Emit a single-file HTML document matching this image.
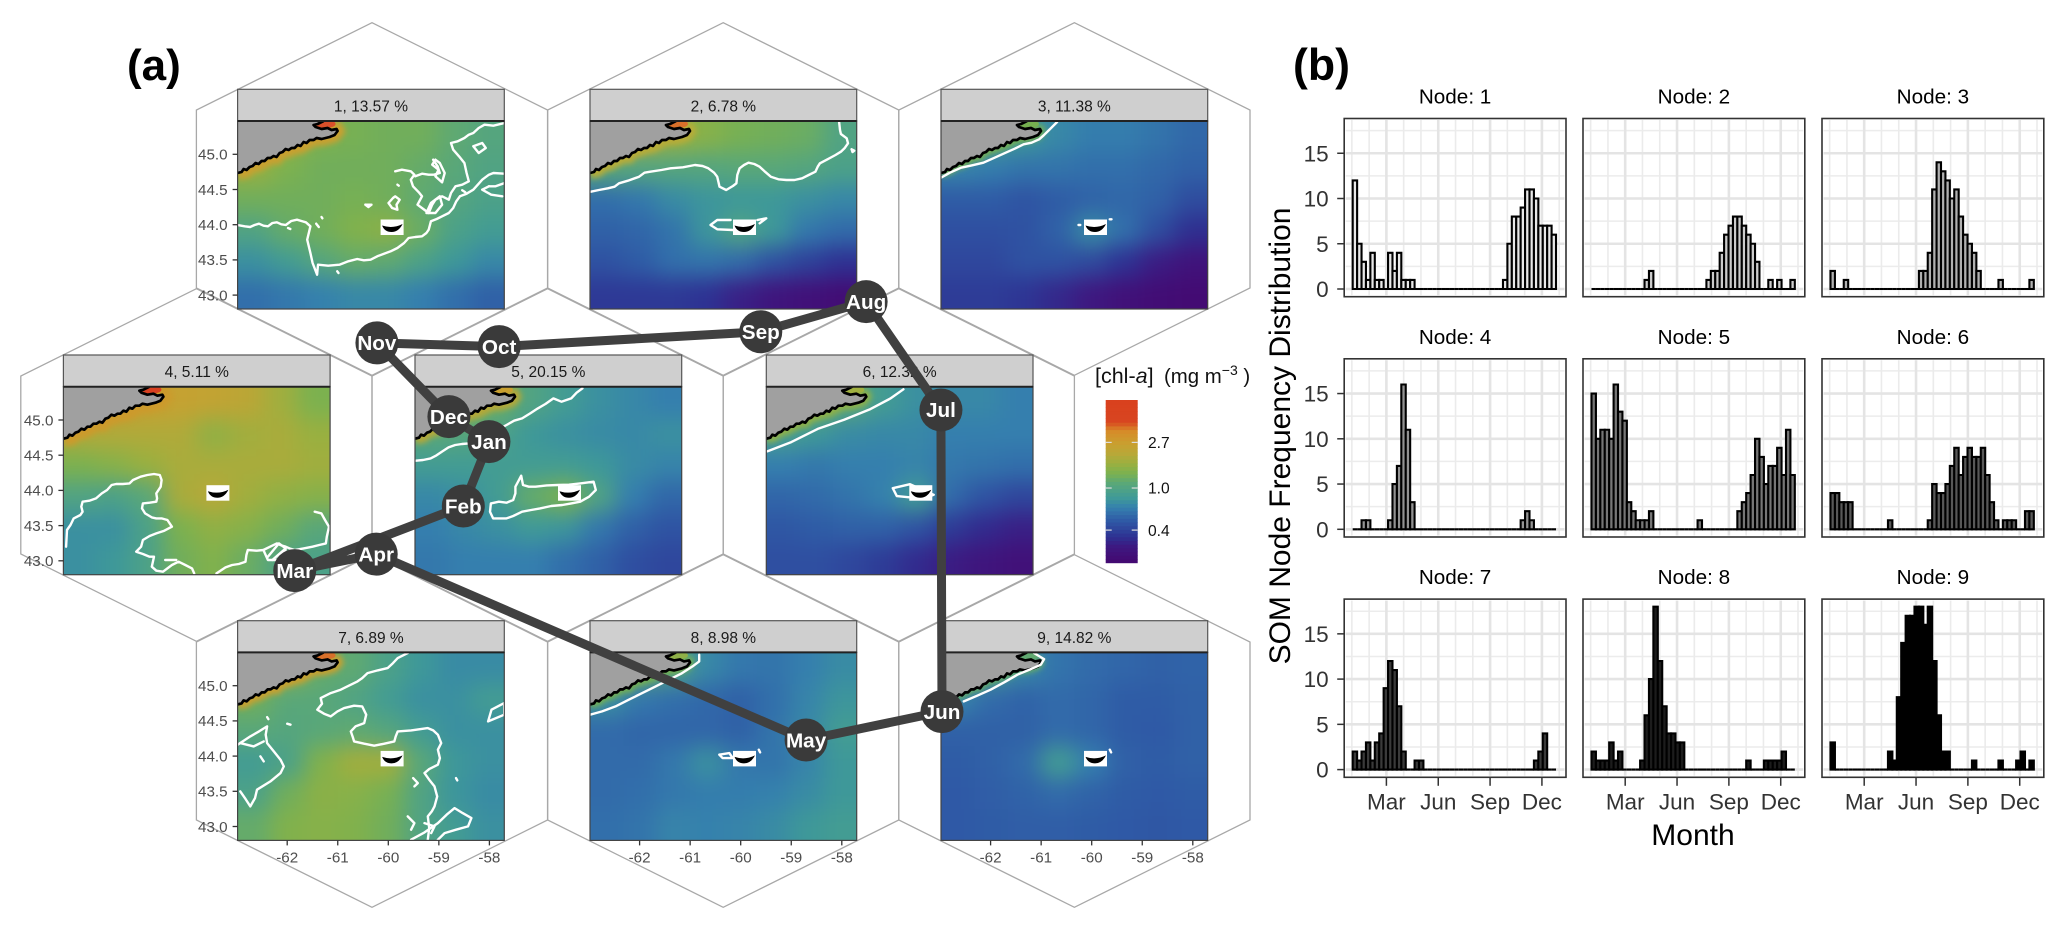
<!DOCTYPE html>
<html lang="en">
<head>
<meta charset="utf-8">
<title>SOM chlorophyll-a nodes and node frequency distribution</title>
<style>
html,body{margin:0;padding:0;background:#fff}
svg{display:block;font-family:"Liberation Sans",sans-serif}
</style>
</head>
<body>
<svg id="fig" xmlns="http://www.w3.org/2000/svg" width="2067" height="927" viewBox="0 0 2067 927">
  <defs>
    <filter id="fieldBlur" filterUnits="userSpaceOnUse" x="-90" y="-90" width="450" height="370" color-interpolation-filters="sRGB"><feGaussianBlur stdDeviation="11"/></filter>
    <filter id="fringeBlur" filterUnits="userSpaceOnUse" x="-90" y="-90" width="450" height="370" color-interpolation-filters="sRGB"><feGaussianBlur stdDeviation="3"/></filter>
    <clipPath id="mapClip"><rect x="0" y="0" width="266.7" height="188"/></clipPath>
  </defs>
  <rect x="0" y="0" width="2067" height="927" fill="#fff"/>
  <g id="hexLayer"></g>
  <g id="mapLayer"></g>
  <g id="pathLayer"></g>
  <g id="histLayer"></g>

  <text x="127" y="80" font-size="44" font-weight="bold" fill="#000">(a)</text>
  <text x="1293" y="80" font-size="44.6" font-weight="bold" fill="#000">(b)</text>

  <g id="legend">
    <text x="1095" y="383" font-size="21.5" fill="#111">[chl-<tspan font-style="italic">a</tspan>]</text>
    <text x="1164" y="383" font-size="20.4" fill="#111">(mg m<tspan dy="-8" font-size="14">−3</tspan><tspan dy="8"> )</tspan></text>
  </g>

  <text transform="translate(1290,436) rotate(-90)" text-anchor="middle" font-size="30" fill="#000">SOM Node Frequency Distribution</text>
  <text x="1693" y="845" text-anchor="middle" font-size="30" fill="#000">Month</text>
</svg>

<script>
/* ---------- histogram data (panel b): counts per 8-day composite, 46 bins ---------- */
const node1 = [12,5,3,1,4,1,1,0,4,2,4,1,1,1,0,0,0,0,0,0,0,0,0,0,0,0,0,0,0,0,0,0,0,0,1,5,8,8,9,11,11,10,7,7,7,6];
const node2 = [0,0,0,0,0,0,0,0,0,0,0,0,1,2,0,0,0,0,0,0,0,0,0,0,0,0,1,2,2,4,6,7,8,8,7,6,5,3,0,0,1,0,1,0,0,1];
const node3 = [2,0,0,1,0,0,0,0,0,0,0,0,0,0,0,0,0,0,0,0,2,2,4,11,14,13,12,10,11,8,6,5,4,2,0,0,0,0,1,0,0,0,0,0,0,1];
const node4 = [0,0,1,1,0,0,0,0,1,5,7,16,11,3,0,0,0,0,0,0,0,0,0,0,0,0,0,0,0,0,0,0,0,0,0,0,0,0,1,2,1,0,0,0,0,0];
const node5 = [15,10,11,11,10,16,13,12,3,2,1,1,1,2,0,0,0,0,0,0,0,0,0,0,1,0,0,0,0,0,0,0,0,2,3,4,6,10,8,5,7,7,9,6,11,6];
const node6 = [4,4,3,3,3,0,0,0,0,0,0,0,0,1,0,0,0,0,0,0,0,0,1,5,4,4,5,7,9,6,8,9,8,8,9,6,3,1,0,1,1,1,0,0,2,2];
const node7 = [2,1,2,3,1,3,4,9,12,11,7,2,0,0,1,1,0,0,0,0,0,0,0,0,0,0,0,0,0,0,0,0,0,0,0,0,0,0,0,0,0,1,2,4,0,0];
const node8 = [2,1,1,1,3,1,2,0,0,0,0,1,6,10,18,12,7,4,4,3,3,0,0,0,0,0,0,0,0,0,0,0,0,0,0,1,0,0,0,1,1,1,1,2,0,0];
const node9 = [3,0,0,0,0,0,0,0,0,0,0,0,0,2,1,8,14,17,17,18,18,16,18,12,6,2,2,0,0,0,0,0,1,0,0,0,0,0,1,0,0,0,1,2,0,1];
const nodeSeries = [node1,node2,node3,node4,node5,node6,node7,node8,node9];
const nodeTitles = ['Node: 1','Node: 2','Node: 3','Node: 4','Node: 5','Node: 6','Node: 7','Node: 8','Node: 9'];
const nodeFills = ['#e8e8e8','#cccccc','#b0b0b0','#939393','#767676','#585858','#3a3a3a','#1c1c1c','#000000'];
const countTicks = [0,5,10,15];
const countTickLabels = ['0','5','10','15'];
const countMinor = [2.5,7.5,12.5,17.5];
const monthGrid = [1,2,3,4,5,6,7,8,9,10,11,12,13];
const monthTicks = [3,6,9,12];
const monthTickLabels = ['Mar','Jun','Sep','Dec'];

/* ---------- SOM map data (panel a): chl-a (mg m-3) on a coarse 8x6 lon/lat grid ---------- */
const stripLabels = ['1, 13.57 %','2, 6.78 %','3, 11.38 %','4, 5.11 %','5, 20.15 %','6, 12.32 %','7, 6.89 %','8, 8.98 %','9, 14.82 %'];
const chl1 = [[2.0,1.7,1.4,1.35,1.3,1.3,1.15,1.05],[1.7,1.4,1.3,1.3,1.3,1.2,1.1,1.0],[1.3,1.3,1.3,1.35,1.3,1.15,1.05,.95],[1.0,1.2,1.3,1.45,1.55,1.25,.95,.85],[.75,.85,1.05,1.2,1.15,.95,.8,.7],[.58,.62,.66,.7,.7,.65,.58,.52]];
const chl2 = [[2.2,2,1.7,1.5,1.35,1.3,1.25,1.0],[1.1,1.05,1.05,1.05,1.1,1.1,1.05,.95],[.58,.62,.72,.78,.8,.8,.75,.7],[.52,.54,.6,.78,1.0,.8,.62,.56],[.46,.5,.58,.6,.56,.46,.4,.35],[.37,.37,.37,.35,.3,.26,.24,.22]];
const chl3 = [[1.0,.9,.8,.7,.64,.64,.6,.55],[.68,.64,.6,.6,.58,.58,.55,.52],[.5,.5,.47,.5,.53,.55,.52,.44],[.45,.45,.46,.52,.72,.58,.44,.34],[.42,.42,.46,.46,.43,.35,.29,.25],[.38,.38,.36,.32,.28,.24,.22,.21]];
const chl4 = [[3,3,2.7,2.5,2.4,2.2,1.8,1.4],[2.0,2.0,2.0,2.0,1.6,1.8,1.9,1.7],[1.4,1.5,1.7,1.9,1.9,1.9,1.9,1.8],[1.0,.95,1.1,1.9,2.1,1.8,1.6,1.5],[.75,.75,.95,1.4,1.6,1.5,1.3,1.1],[.75,.8,.95,1.3,1.45,1.25,1.0,.95]];
const chl5 = [[2,1.5,1.25,1.0,.85,.75,.7,.65],[1.1,1.05,.95,.8,.75,.72,.7,.75],[.85,.85,.85,.85,.85,.8,.72,.68],[.7,.75,.85,1.2,1.4,1.0,.65,.55],[.65,.7,.75,.82,.78,.62,.52,.47],[.62,.65,.65,.65,.58,.52,.45,.42]];
const chl6 = [[1.6,1.3,1.1,.85,.75,.7,.7,.65],[.9,.8,.72,.7,.7,.65,.65,.65],[.65,.62,.65,.65,.68,.62,.6,.58],[.54,.56,.6,.66,.85,.56,.47,.42],[.48,.5,.52,.52,.47,.38,.33,.3],[.45,.45,.42,.38,.33,.29,.26,.24]];
const chl7 = [[2,1.7,1.2,1.15,.95,.8,.72,.72],[1.3,1.1,1.1,1.0,.85,.75,.75,.85],[1.1,1.05,1.1,1.15,1.05,.85,.75,.75],[.85,.95,1.45,1.8,1.8,1.1,.8,.75],[.95,1.3,1.55,1.5,1.35,1.0,.78,.72],[1.2,1.45,1.5,1.45,1.3,1.0,.85,.75]];
const chl8 = [[1.4,1.2,1.0,.7,.62,.6,.65,.72],[.75,.62,.58,.55,.52,.58,.68,.78],[.56,.54,.54,.54,.52,.6,.7,.85],[.56,.56,.62,.75,.62,.6,.68,.8],[.56,.58,.62,.64,.64,.66,.72,.8],[.58,.6,.68,.66,.68,.72,.8,.85]];
const chl9 = [[1.0,.9,.7,.6,.56,.54,.52,.53],[.68,.56,.53,.56,.54,.5,.5,.52],[.52,.52,.52,.56,.54,.5,.49,.52],[.5,.52,.56,.85,.65,.52,.5,.52],[.49,.51,.53,.56,.53,.5,.49,.5],[.49,.5,.51,.51,.5,.49,.48,.49]];
const chlGrids = [chl1,chl2,chl3,chl4,chl5,chl6,chl7,chl8,chl9];
const latTicks = [45,44.5,44,43.5,43];
const latTickLabels = ['45.0','44.5','44.0','43.5','43.0'];
const lonTicks = [-62,-61,-60,-59,-58];
const lonTickLabels = ['-62','-61','-60','-59','-58'];
const legendValues = [2.7,1.0,0.4];
const legendLabels = ['2.7','1.0','0.4'];

/* ---------- monthly mean position on the SOM (hex column, hex row) ---------- */
const monthNames = ['Jan','Feb','Mar','Apr','May','Jun','Jul','Aug','Sep','Oct','Nov','Dec'];
const somCol = [.833,.76,.28,.512,1.736,2.123,2.12,1.907,1.607,.862,.514,.719];
const somRow = [.912,1.154,1.397,1.335,2.034,1.927,.793,.386,.499,.555,.541,.818];

/* ---------- contour traces and coast styling ---------- */
const coastLine = '0,52 4,51 6,48 9,49 12,46 15,45 18,42 21,43 24,40 27,40 30,37 33,37 36,35 39,36 42,32 45,31 48,28 51,29 54,27 57,27 60,24 63,25 66,21 69,22 72,19 76,19 79,17 84,18 88,17 92,16 97,14 100,10 99,8 94,9 90,7 84,8 78,6 76,4 80,3 84,1 86,0';
const fringeColors = ['#c9a030','#b8ac38','#76b050','#cc9a2c','#b5a838','#8fb048','#c8a030','#76b050','#6aaf60'];
const fringeWidths = [14,12,8,16,12,10,11,8,6];
const tipColors = ['#d8502a','#d8702a','#76b050','#d84020','#c8a030','#a0b040','#d8702a','#8fb048','#60a870'];
const traceFrames = [[532,364,2.24,3],[90,183,2.24,3],[875,185,2.24,3],[142,170,2.24,3],[930,170,2.24,3],[581,293,.7587,.7587],[86,128,1.493,3],[612,128,1.493,3],[1136,128,1.493,3]];
const contourTraces = [
 ['532,676 548,680 560,682 570,676 580,672 590,678 600,680 610,670 620,668 630,674 640,676 652,664 665,660 675,664 685,668 695,680 688,720 695,760 700,790 710,825 712,795 735,798 760,795 780,785 800,778 815,782 830,780 845,770 860,762 875,755 890,745 905,730 915,715 930,712 945,710 955,700 960,690 965,665 978,658 990,650 1005,640 1015,625 1022,605 1030,590 1045,582 1060,570 1072,552 1080,540 1095,525 1105,520 1130,522',
  '885,515 900,510 920,515 928,525 920,540 925,560 938,578 945,590 935,615 948,628 960,640 968,615 975,600 990,590 1005,600 1010,580 1020,560 1035,555 1050,545 1045,520 1040,490 1028,470 1015,450 1010,430 1025,425 1040,415 1050,405 1060,400 1072,385 1085,375 1105,378 1130,370',
  '970,480 980,500 985,520 972,525 960,525 945,522 930,530','870,610 880,595 885,590 895,600 888,615 890,630 878,625 870,610','818,615 832,615 825,622 818,615',
  '1060,440 1080,430 1088,445 1072,460 1060,440','1095,560 1080,570 1100,585 1125,590','1130,550 1110,560 1095,560','965,610 985,590 990,615 975,640 955,640 965,610','975,480 968,495 982,510 975,530 990,548 996,520 985,490 975,480',
  '708,672 714,682','720,652 722,656','755,815 758,820','645,685 650,688','890,555 893,558','1035,572 1042,578'],
 ['92,395 110,390 130,385 145,380 155,370 175,362 200,350 212,338 225,335 250,330 270,325 298,322 325,315 342,318 355,325 368,338 375,350 378,368 380,380 395,390 410,378 418,370 420,345 425,325 435,315 445,308 458,312 470,320 482,335 495,350 512,358 530,360 548,360 565,355 580,345 595,335 600,320 605,310 622,298 640,285 652,275 660,265 668,250 665,235 652,222 650,210 648,185',
  '405,480 375,480 360,495 375,508 410,510','465,480 485,475 470,490','676,268 682,272 678,276 676,268'],
 ['875,355 895,340 920,325 945,318 970,310 995,295 1020,280 1040,268 1060,255 1078,250 1095,240 1105,228 1115,215 1135,188','1183,497 1187,497','1253,480 1257,480'],
 ['148,650 150,600 158,585 165,565 180,555 185,545 182,530 185,515 200,512 215,505 228,490 240,480 250,465 260,462 275,462 290,460 298,450 315,440 330,435 345,432 358,435 362,450 360,470 350,490 352,505 350,515 335,518 320,520 318,535 325,550 340,562 350,565 362,565 375,570 385,590 368,602 350,610 335,618 320,630 316,650 305,665 320,672 335,680 345,680 340,710 350,722 365,725 385,705 400,695 415,705 430,715 435,730',
  '485,730 505,712 520,705 535,702 550,695 552,675 555,660 575,662 590,660 605,650 620,640 630,646 640,650 650,656 660,660 680,655 700,650 715,645 730,640 732,620 737,590 728,570 720,550 705,545','370,690 395,690','600,680 625,640 640,655 610,690','590,660 600,690 620,690 640,660'],
 ['932,392 948,390 965,385 978,376 990,365 1005,352 1020,345 1035,342 1050,340 1100,310 1135,285 1152,272 1170,265 1188,250 1205,235 1222,222 1240,205 1258,215 1280,205 1292,188 1305,175',
  '1100,520 1118,515 1135,518 1150,510 1155,490 1155,470 1162,452 1168,437 1172,465 1185,470 1200,470 1225,466 1250,465 1275,464 1300,460 1330,455 1335,480 1320,500 1300,515 1280,520 1260,525 1235,528 1210,535 1190,540 1170,545 1150,558 1135,565 1105,565 1098,545 1100,520'],
 ['582,342 600,335 620,325 640,318 660,310 675,302 685,295','677,370 690,367 708,375 700,378 680,376 677,370'],
 ['340,130 325,145 318,160 310,175 295,182 280,190 272,205 265,215 252,228 240,240 225,250 210,265 212,282 205,300 215,312 225,320 235,305 245,295 260,288 272,290 278,315 275,340 262,350 255,365 258,382 260,395 275,402 290,408 305,402 320,395 322,380 325,365 345,362 370,355 378,362 385,375 390,400 385,420 388,445 385,465 372,478 365,490 372,510 380,530 384,560 380,590 376,605 370,620 372,655 370,690',
  '86,405 105,380 118,365 130,350 128,375 130,400 140,425 150,450 155,470 150,490 135,515 115,540 112,565 105,590 98,568 90,545','460,335 465,300 484,280 484,315 460,335','345,690 365,668 385,640 398,615 410,595 422,610 435,625 430,650 412,660 395,670 385,690','340,620 350,640 345,660','365,640 380,650 375,670','90,400 110,410 125,395','120,440 125,455','130,322 132,328','160,342 165,345','412,505 414,512','348,505 355,520 350,530'],
 ['612,315 630,305 650,290 670,270 690,250 710,230 730,210 748,192 765,170 775,155 775,135','805,435 820,430 825,445 810,445 805,435','864,420 866,428'],
 ['1170,275 1190,258 1210,240 1230,218 1250,195 1270,178 1285,165 1290,148 1275,130','1388,420 1390,428']
];

/* ---------- helpers ---------- */
const NS = 'http://www.w3.org/2000/svg';
function mk(tag, attrs, parent, txt){
  const e = document.createElementNS(NS, tag);
  for (const k in attrs) e.setAttribute(k, attrs[k]);
  if (txt !== undefined) e.textContent = txt;
  parent.appendChild(e);
  return e;
}
const stops = [[0,[68,8,112]],[.1,[62,24,128]],[.16,[46,49,146]],[.26,[47,90,166]],[.34,[53,128,174]],[.4,[63,154,152]],[.49,[90,168,120]],[.55,[122,177,80]],[.61,[154,176,64]],[.67,[184,168,56]],[.73,[200,160,48]],[.815,[216,138,40]],[.867,[216,69,32]],[1,[217,65,30]]];
function rampColor(t){
  t = Math.max(0, Math.min(1, t));
  for (let i = 1; i < stops.length; i++){
    if (t <= stops[i][0]){
      const a = stops[i-1], b = stops[i], f = (t-a[0])/(b[0]-a[0]);
      return 'rgb(' + a[1].map((v,j)=>Math.round(v+(b[1][j]-v)*f)).join(',') + ')';
    }
  }
  return 'rgb(217,65,30)';
}
function chlToT(c){ return .459 + .65*Math.log10(c); }
function chlColor(c){ return rampColor(chlToT(c)); }

/* ---------- hexagon grid ---------- */
const hexLayer = document.getElementById('hexLayer');
const hexCenters = [];
const hexColScale = c => 196.4 + 351.2*c;
const hexRowScale = r => 199 + 266*r;
[[.5,0],[1.5,0],[2.5,0],[0,1],[1,1],[2,1],[.5,2],[1.5,2],[2.5,2]].forEach(p => hexCenters.push(p));
hexCenters.forEach((p,i) => {
  const cx = hexColScale(p[0]), cy = hexRowScale(p[1]), hw = 175.6, a = 176.3, s = 89;
  const pts = [[cx,cy-a],[cx+hw,cy-s],[cx+hw,cy+s],[cx,cy+a],[cx-hw,cy+s],[cx-hw,cy-s]].map(q=>q.join(',')).join(' ');
  const h = mk('polygon',{points:pts,fill:'none',stroke:'#a8a8a8','stroke-width':1.3},hexLayer);
  
  
});

/* ---------- map panels ---------- */
const mapLayer = document.getElementById('mapLayer');
const panelW = 266.7, mapH = 188, stripH = 31.7;
const panelLeft = [237.6,590,941,63.4,415,766.3,237.6,590,941];
const panelTop = [89.3,89.3,89.3,355,355,355,620.7,620.7,620.7];
const latScale = v => 103.7 + (44 - v)*70.4;
const lonScale = v => 150.7 + (v + 60)*50.55;

chlGrids.forEach((grid,n) => {
  const L = panelLeft[n], T = panelTop[n];
  const g = mk('g',{transform:'translate('+L+','+T+')'},mapLayer);
  
  

  const strip = mk('rect',{x:0,y:0,width:panelW,height:stripH,fill:'#cfcfcf',stroke:'#555','stroke-width':1.2},g);
  
  
  const st = mk('text',{x:panelW/2,y:22.2,'text-anchor':'middle','font-size':15.5,fill:'#1a1a1a'},g,stripLabels[n]);
  
  

  const m = mk('g',{transform:'translate(0,'+stripH+')'},g);
  
  
  const clip = mk('g',{'clip-path':'url(#mapClip)'},m);
  
  

  const field = mk('g',{filter:'url(#fieldBlur)'},clip);
  
  
  const rows = grid.length, cols = grid[0].length, cw = panelW/cols, ch = mapH/rows;
  grid.forEach((row,r) => row.forEach((val,c) => {
    const x0 = c===0 ? -70 : c*cw, x1 = c===cols-1 ? panelW+70 : (c+1)*cw+.5;
    const y0 = r===0 ? -70 : r*ch, y1 = r===rows-1 ? mapH+70 : (r+1)*ch+.5;
    const cell = mk('rect',{x:x0,y:y0,width:x1-x0,height:y1-y0,fill:chlColor(val)},field);
    
    
  }));

  const fr = mk('g',{filter:'url(#fringeBlur)'},clip);
  
  
  const fp = mk('polyline',{points:coastLine,fill:'none',stroke:fringeColors[n],'stroke-width':fringeWidths[n]},fr);
  
  
  const tip = mk('ellipse',{cx:88,cy:3,rx:10,ry:4,fill:tipColors[n]},clip);
  
  

  const land = mk('polygon',{points:coastLine+' 0,0',fill:'#a0a0a0'},clip);
  
  
  const coast = mk('polyline',{points:coastLine,fill:'none',stroke:'#000','stroke-width':2.7,'stroke-linejoin':'round'},clip);
  
  

  const fr2 = traceFrames[n];
  contourTraces[n].forEach((tr,k) => {
    const pts = tr.split(' ').map(s => { const a = s.split(',').map(Number); return ((a[0]-fr2[0])/fr2[2]).toFixed(1)+','+((a[1]-fr2[1])/fr2[3]).toFixed(1); }).join(' ');
    const cl = mk('polyline',{points:pts,fill:'none',stroke:'#fff','stroke-width':2.4,'stroke-linejoin':'round','stroke-linecap':'round'},clip);
    
    
  });

  const isl = mk('rect',{x:143,y:98.5,width:23,height:15.5,fill:'#fff'},clip);
  
  
  const cres = mk('path',{d:'M144.5,104.5 Q155,108 165,103 Q161,111 154,111 Q147,111 144.5,104.5Z',fill:'#000'},clip);
  
  

  const frame = mk('rect',{x:0,y:0,width:panelW,height:mapH,fill:'none',stroke:'#444','stroke-width':1.2},m);
  
  
  const topEdge = mk('line',{x1:0,x2:panelW,y1:0,y2:0,stroke:'#222','stroke-width':2},m);
  
  

  if (n % 3 === 0){
    latTicks.forEach((v,i) => {
      const y = latScale(v);
      const t = mk('line',{x1:-5,x2:0,y1:y,y2:y,stroke:'#333','stroke-width':1.3},m);
      
      
      const l = mk('text',{x:-10,y:y+5.3,'text-anchor':'end','font-size':15.2,fill:'#4d4d4d'},m,latTickLabels[i]);
      
      
    });
  }
  if (n >= 6){
    lonTicks.forEach((v,i) => {
      const x = lonScale(v);
      const t = mk('line',{x1:x,x2:x,y1:mapH,y2:mapH+5,stroke:'#333','stroke-width':1.3},m);
      
      
      const l = mk('text',{x:x,y:mapH+22,'text-anchor':'middle','font-size':15.2,fill:'#4d4d4d'},m,lonTickLabels[i]);
      
      
    });
  }
});

/* ---------- colorbar ---------- */
const legend = document.getElementById('legend');
const cbX = 1105.7, cbW = 32, cbTop = 400, cbH = 162.7, cbSteps = 44;
for (let i = 0; i < cbSteps; i++){
  const t = (i+.5)/cbSteps;
  const r = mk('rect',{x:cbX,y:cbTop+cbH*(1-(i+1)/cbSteps),width:cbW,height:cbH/cbSteps+.5,fill:rampColor(t)},legend);
  
  
}
legendValues.forEach((v,i) => {
  const y = cbTop + cbH*(1-chlToT(v));
  const a = mk('line',{x1:cbX,x2:cbX+6,y1:y,y2:y,stroke:'#ddd','stroke-width':1.2},legend);
  
  
  const b = mk('line',{x1:cbX+cbW-6,x2:cbX+cbW,y1:y,y2:y,stroke:'#ddd','stroke-width':1.2},legend);
  
  
  const l = mk('text',{x:1148,y:y+5.7,'font-size':15.6,fill:'#111'},legend,legendLabels[i]);
  
  
});

/* ---------- monthly path ---------- */
const pathLayer = document.getElementById('pathLayer');
const somX = c => 196.4 + 351.2*c;
const somY = r => 199 + 266*r;
const loop = monthNames.map((_,i) => somX(somCol[i]).toFixed(1)+','+somY(somRow[i]).toFixed(1)).join(' ');
const pl = mk('polygon',{points:loop,fill:'none',stroke:'#404040','stroke-width':9,'stroke-linejoin':'round'},pathLayer);


monthNames.forEach((name,i) => {
  const x = somX(somCol[i]), y = somY(somRow[i]);
  const c = mk('circle',{cx:x,cy:y,r:21.5,fill:'#3a3a3a'},pathLayer);
  
  
});
monthNames.forEach((name,i) => {
  const x = somX(somCol[i]), y = somY(somRow[i]);
  const t = mk('text',{x:x,y:y+7.3,'text-anchor':'middle','font-size':20.7,'font-weight':'bold',fill:'#fff'},pathLayer,name);
  
  
});

/* ---------- histograms ---------- */
const histLayer = document.getElementById('histLayer');
const colLeft = [1344.2,1583,1822], rowBottom = [296.7,537,777.3], histW = 221.8, histH = 178.2;
const binW = 4.42, binX0 = 8.5, zeroOffset = 7.7, unitH = 9.05, monthW = 17.28;
nodeSeries.forEach((vals,n) => {
  const col = n % 3, row = Math.floor(n/3);
  const L = colLeft[col], B = rowBottom[row], T = B - histH;
  const xBin = i => L + binX0 + i*binW;
  const yVal = v => B - zeroOffset - v*unitH;
  const xMonth = m => L + 42.2 + (m-3)*monthW;
  const g = mk('g',{},histLayer);
  
  

  const title = mk('text',{x:L+histW/2,y:T-15,'text-anchor':'middle','font-size':20.7,fill:'#000'},g,nodeTitles[n]);
  
  

  countMinor.forEach((v,i) => {
    const gl = mk('line',{x1:L+1.5,x2:L+histW-1.5,y1:yVal(v),y2:yVal(v),stroke:'#ececec','stroke-width':1.5},g);
    
    
  });
  monthGrid.forEach((m,i) => {
    const major = monthTicks.indexOf(m) >= 0;
    const gl = mk('line',{x1:xMonth(m),x2:xMonth(m),y1:T+1.5,y2:B-1.5,stroke:major?'#e4e4e4':'#ebebeb','stroke-width':major?2.6:1.6},g);
    
    
  });
  countTicks.forEach((v,i) => {
    const gl = mk('line',{x1:L+1.5,x2:L+histW-1.5,y1:yVal(v),y2:yVal(v),stroke:'#e4e4e4','stroke-width':2.6},g);
    
    
  });

  vals.forEach((v,i) => {
    const x = xBin(i), y0 = yVal(0), y1 = yVal(v);
    const d = 'M'+x.toFixed(2)+' '+y0.toFixed(2)+'V'+y1.toFixed(2)+'H'+(x+binW).toFixed(2)+'V'+y0.toFixed(2)+'Z';
    const bar = mk('path',{d:d,fill:nodeFills[n],stroke:'#000','stroke-width':2.1,'stroke-linejoin':'miter'},g);
    
    
  });

  const frame = mk('rect',{x:L,y:T,width:histW,height:histH,fill:'none',stroke:'#333','stroke-width':1.6},g);
  
  

  if (col === 0){
    countTicks.forEach((v,i) => {
      const t = mk('line',{x1:L-7,x2:L,y1:yVal(v),y2:yVal(v),stroke:'#333','stroke-width':1.5},g);
      
      
      const l = mk('text',{x:L-15.5,y:yVal(v)+8,'text-anchor':'end','font-size':22.5,fill:'#333'},g,countTickLabels[i]);
      
      
    });
  }
  if (row === 2){
    monthTicks.forEach((m,i) => {
      const t = mk('line',{x1:xMonth(m),x2:xMonth(m),y1:B,y2:B+8.5,stroke:'#333','stroke-width':1.5},g);
      
      
      const l = mk('text',{x:xMonth(m),y:B+32,'text-anchor':'middle','font-size':22.5,fill:'#333'},g,monthTickLabels[i]);
      
      
    });
  }
});
</script>
</body>
</html>
